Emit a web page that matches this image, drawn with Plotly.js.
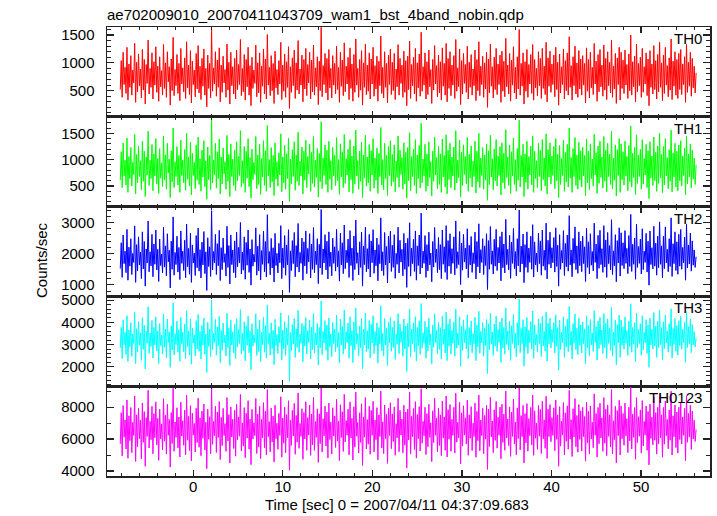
<!DOCTYPE html>
<html>
<head>
<meta charset="utf-8">
<script src="https://cdn.plot.ly/plotly-3.0.1.min.js"></script>
<style>html,body{margin:0;padding:0;background:#fff;}#chart{width:717px;height:516px;}</style>
</head>
<body>
<div id="chart"></div>
<script>
// ---- data (counts/sec) ----
const TITLE = "ae702009010_20070411043709_wam1_bst_4band_nobin.qdp";
const X_LABEL = "Time [sec] 0 = 2007/04/11 04:37:09.683";
const Y_LABEL = "Counts/sec";
const BANDS = ["TH0", "TH1", "TH2", "TH3", "TH0123"];
const T_START = -8.15;
const T_END = 56.15;
const X_TICKS = [0, 10, 20, 30, 40, 50];

const TH0 = [
520,1040,380,1190,610,920,450,1280,330,980,560,1130,420,870,640,1350,290,1010,480,1160,
590,890,370,1240,510,1060,260,970,630,1410,440,900,560,1180,350,1020,600,1290,470,940,
310,1110,570,860,420,1330,540,1000,380,1200,660,930,240,1070,500,1460,410,880,590,1150,
450,990,320,1260,620,910,480,1090,360,1380,550,960,430,1220,280,1030,610,870,390,1170,
530,1310,460,940,340,1080,580,1250,420,900,210,1140,540,990,370,1600,490,910,620,1200,
400,1050,560,1270,300,960,470,1120,640,880,380,1340,510,1010,260,1190,590,930,440,1080,
350,1230,520,970,610,1420,410,900,480,1150,330,1060,570,1280,420,950,230,1100,540,870,
630,1320,390,1000,460,1180,290,940,580,1250,440,1070,350,1510,600,920,410,1130,500,990,
270,1210,550,880,430,1040,620,1370,340,960,490,1160,380,1020,560,1290,180,930,470,1090,
590,1230,360,1000,510,1400,440,890,600,1140,300,1060,530,1260,410,970,640,1190,350,1050,
480,1320,420,910,570,1110,250,1030,500,1640,390,950,610,1170,460,1080,330,1240,550,900,
370,1130,600,990,440,1300,520,920,290,1190,580,1050,410,1360,480,940,620,1100,340,1270,
540,980,310,1150,470,1430,600,900,380,1060,510,1220,240,1000,560,1340,430,960,490,1180,
350,1070,620,1280,400,950,530,1120,310,1030,590,1480,450,920,370,1200,560,990,280,1140,
610,1250,430,1010,500,1170,340,890,570,1330,420,1080,630,960,380,1210,470,1040,230,1120,
520,1390,360,970,590,1100,440,1260,310,1000,550,1160,400,1550,490,930,600,1180,350,1020,
430,1230,570,880,270,1060,510,1310,620,950,390,1140,460,1020,330,1270,580,990,420,1350,
300,1080,540,1200,410,960,600,1130,360,1420,490,910,570,1250,250,1040,440,1170,630,970,
470,1300,350,1010,560,1150,420,890,590,1230,320,1060,500,1380,410,940,610,1120,380,1000,
530,1190,200,1070,460,1340,580,930,370,1100,520,1260,430,980,610,1140,290,1210,490,1030,
390,1440,570,960,440,1170,310,1050,600,1290,460,920,350,1110,530,1600,420,990,580,1180,
260,1020,490,1240,380,970,620,1150,450,1330,330,1060,550,900,410,1200,590,1080,360,1260,
540,940,430,1370,300,1090,580,1210,470,980,610,1140,390,1280,520,1010,240,1160,460,930,
610,1250,350,1040,500,1180,420,1470,560,950,330,1110,590,1300,440,1000,380,1220,530,1070,
420,1130,600,990,280,1270,490,1060,370,1190,550,920,430,1350,620,1030,310,1150,480,1240,
570,960,400,1320,510,1080,340,1200,590,1010,460,1410,380,940,530,1170,270,1090,610,1280,
330,1190,540,1050,450,1230,600,970,360,1160,500,1500,420,1020,570,1120,300,1340,480,990,
590,1100,380,1260,470,930,620,1180,410,1070,230,1220,560,980,440,1310,520,1040,350,1150,
480,1370,560,1000,320,1140,450,1280,600,950,390,1090,510,1430,340,1030,580,1200,420,1060,
360,1170,520,1240,430,980,610,1110,290,1330,470,1010,580,1190,400,1080,550,940,460,820
];

const TH1 = [
610,1150,470,1320,690,990,520,1410,380,1060,640,1230,500,950,720,1480,350,1100,560,1260,
680,980,430,1350,590,1160,300,1050,710,1540,510,990,640,1290,410,1110,690,1400,540,1020,
360,1210,650,940,490,1450,620,1090,440,1310,750,1010,280,1170,580,1600,470,960,680,1250,
520,1080,380,1370,700,990,560,1190,420,1500,630,1050,500,1330,330,1120,700,950,450,1280,
610,1430,530,1020,400,1180,670,1360,490,980,250,1240,620,1080,430,1770,560,990,710,1310,
460,1150,640,1390,350,1050,540,1220,730,960,440,1460,590,1100,300,1300,680,1010,510,1180,
410,1340,600,1060,700,1550,480,980,550,1250,380,1160,650,1400,490,1040,270,1200,620,950,
720,1440,450,1090,530,1290,340,1020,670,1360,510,1170,400,1650,690,1000,470,1230,580,1080,
320,1320,630,960,500,1130,710,1490,390,1050,560,1270,440,1110,640,1410,210,1010,540,1190,
680,1340,420,1090,590,1520,510,970,690,1240,350,1160,610,1370,470,1060,730,1300,400,1140,
550,1440,480,990,660,1210,290,1120,580,1720,450,1030,700,1280,530,1180,380,1350,630,980,
430,1230,690,1080,510,1420,600,1000,340,1300,670,1150,470,1480,550,1020,710,1200,390,1380,
620,1070,360,1260,540,1560,690,980,440,1160,590,1330,280,1090,650,1460,500,1050,560,1290,
400,1170,710,1400,460,1030,610,1220,360,1120,680,1610,520,1000,430,1310,640,1080,320,1250,
700,1360,500,1100,580,1280,390,970,660,1450,480,1180,720,1040,440,1320,540,1140,270,1230,
600,1510,410,1060,680,1200,510,1380,360,1090,640,1270,460,1690,560,1010,690,1290,400,1110,
500,1340,660,960,310,1160,590,1430,710,1040,450,1250,530,1110,380,1390,670,1080,480,1470,
350,1180,620,1310,470,1050,690,1240,420,1550,560,990,660,1370,290,1140,510,1280,720,1060,
540,1420,400,1100,650,1260,480,970,680,1350,370,1160,580,1500,470,1030,700,1230,440,1090,
610,1300,230,1170,530,1460,670,1020,430,1200,600,1380,500,1070,700,1250,330,1320,560,1120,
450,1570,660,1050,510,1280,360,1150,690,1410,530,1000,400,1210,610,1750,480,1080,670,1290,
300,1110,570,1350,440,1060,710,1260,520,1450,380,1160,640,980,470,1310,680,1180,410,1380,
620,1030,500,1490,350,1190,670,1320,540,1070,700,1250,450,1400,600,1100,280,1270,530,1020,
700,1370,400,1140,580,1290,480,1600,650,1040,380,1210,680,1420,510,1090,440,1330,610,1170,
480,1240,690,1080,320,1390,560,1160,430,1300,640,1010,500,1480,710,1130,360,1260,550,1350,
660,1050,460,1440,590,1180,390,1310,680,1100,530,1540,440,1030,610,1280,310,1190,700,1400,
380,1300,620,1150,520,1350,690,1060,410,1270,580,1640,480,1120,660,1230,340,1470,550,1090,
680,1200,440,1380,540,1020,710,1290,470,1170,260,1340,650,1070,510,1430,600,1140,400,1260,
550,1500,650,1100,370,1250,520,1400,690,1040,450,1190,590,1560,390,1130,670,1310,480,1160,
410,1280,600,1360,500,1070,700,1220,330,1450,540,1110,670,1300,460,1180,630,1030,530,900
];

const TH2 = [
1520,2350,1240,2600,1680,2080,1390,2780,1150,2210,1600,2480,1330,2010,1720,2890,1080,2290,1450,2540,
1640,2050,1200,2700,1510,2390,960,2150,1700,3050,1420,2060,1610,2620,1260,2310,1660,2760,1480,2140,
1110,2470,1620,1990,1380,2850,1570,2250,1290,2640,1740,2110,900,2400,1500,3180,1310,2040,1650,2560,
1410,2200,1170,2730,1690,2080,1460,2430,1230,2950,1580,2170,1340,2660,1080,2280,1700,2020,1300,2580,
1550,2820,1440,2130,1220,2370,1640,2710,1360,2060,820,2510,1590,2220,1270,3380,1480,2070,1710,2620,
1330,2320,1610,2750,1140,2190,1490,2500,1720,2000,1280,2880,1560,2260,1030,2600,1650,2120,1390,2410,
1230,2690,1580,2200,1700,3000,1350,2050,1470,2540,1180,2360,1630,2760,1400,2150,990,2450,1600,1980,
1730,2830,1310,2240,1450,2610,1160,2100,1660,2720,1420,2390,1250,3250,1690,2070,1320,2490,1540,2190,
1090,2650,1620,2010,1380,2330,1710,2900,1200,2180,1550,2580,1310,2280,1640,2770,760,2090,1460,2420,
1680,2680,1260,2260,1570,2970,1410,2040,1690,2500,1150,2380,1610,2730,1360,2170,1740,2640,1220,2310,
1500,2840,1390,2080,1650,2480,1040,2300,1540,3420,1330,2150,1700,2610,1480,2400,1190,2700,1590,2050,
1290,2500,1690,2220,1440,2780,1580,2090,1120,2660,1640,2350,1360,2920,1520,2110,1710,2470,1240,2740,
1620,2180,1140,2570,1490,3080,1690,2030,1320,2380,1560,2690,960,2240,1650,2850,1420,2160,1510,2620,
1250,2410,1710,2770,1370,2120,1610,2500,1130,2290,1680,3150,1450,2060,1300,2680,1640,2230,1060,2560,
1700,2720,1430,2270,1560,2610,1210,2010,1660,2850,1380,2430,1730,2140,1290,2650,1500,2340,920,2490,
1590,2990,1280,2180,1680,2460,1430,2730,1150,2250,1620,2600,1350,3300,1540,2080,1690,2580,1240,2290,
1450,2690,1640,2020,1100,2390,1570,2840,1720,2150,1390,2520,1490,2290,1200,2760,1660,2220,1400,2900,
1170,2420,1600,2640,1360,2160,1690,2540,1320,3050,1530,2060,1650,2710,1010,2340,1470,2620,1730,2180,
1510,2800,1230,2270,1640,2550,1400,2030,1680,2690,1190,2390,1580,2960,1380,2130,1720,2480,1330,2250,
1620,2640,850,2420,1500,2870,1660,2090,1350,2460,1600,2780,1460,2200,1700,2550,1130,2700,1550,2310,
1380,3100,1650,2140,1480,2590,1210,2370,1690,2810,1520,2070,1290,2480,1610,3400,1410,2240,1670,2630,
1070,2290,1560,2700,1400,2180,1720,2560,1500,2930,1250,2380,1640,2020,1420,2660,1680,2410,1310,2760,
1600,2110,1470,2980,1190,2430,1660,2690,1540,2190,1710,2520,1410,2830,1590,2270,960,2610,1500,2100,
1700,2740,1300,2330,1580,2600,1440,3220,1640,2120,1260,2490,1690,2860,1490,2250,1370,2700,1610,2400,
1420,2560,1680,2220,1110,2810,1560,2380,1350,2640,1630,2070,1450,2980,1720,2310,1200,2590,1530,2750,
1650,2160,1400,2900,1570,2440,1240,2680,1680,2260,1480,3090,1330,2090,1610,2610,1100,2420,1700,2830,
1280,2670,1620,2350,1520,2740,1690,2170,1360,2580,1590,3260,1430,2300,1660,2500,1180,2950,1560,2230,
1690,2470,1350,2800,1490,2080,1720,2650,1410,2400,990,2730,1650,2190,1510,2880,1600,2340,1310,2560,
1550,3020,1660,2250,1230,2560,1520,2860,1700,2140,1420,2480,1590,3150,1270,2320,1680,2700,1460,2380,
1340,2620,1600,2780,1500,2200,1710,2530,1150,2940,1540,2280,1670,2660,1440,2410,1630,2120,1560,1900
];

const TH3 = [
2850,3780,2380,4120,3000,3550,2560,4300,2240,3660,2900,3990,2470,3480,3050,4450,2130,3720,2680,4040,
2970,3530,2290,4210,2790,3870,1900,3600,3060,4700,2610,3520,2920,4090,2400,3780,2990,4250,2720,3610,
2150,3950,2950,3420,2580,4380,2880,3700,2420,4150,3100,3570,1980,3850,2760,4880,2530,3490,3000,4060,
2660,3680,2250,4230,3040,3560,2690,3930,2380,4520,2900,3620,2540,4150,2120,3740,3070,3450,2490,4080,
2800,4360,2700,3600,2350,3860,2980,4200,2570,3480,1750,4000,2920,3700,2460,5000,2760,3500,3090,4130,
2530,3800,2940,4270,2200,3650,2740,3970,3080,3430,2490,4410,2860,3750,2060,4100,2990,3580,2620,3910,
2380,4160,2890,3680,3050,4580,2580,3510,2710,4030,2270,3830,2970,4290,2630,3620,1870,3940,2930,3440,
3090,4390,2510,3700,2680,4090,2240,3560,3000,4230,2660,3860,2400,4790,3040,3520,2530,3980,2820,3650,
2100,4140,2960,3460,2600,3800,3070,4430,2300,3660,2810,4040,2520,3750,2980,4310,1350,3550,2730,3900,
3030,4180,2420,3710,2870,4540,2650,3480,3060,3960,2230,3850,2940,4220,2580,3640,3100,4100,2360,3790,
2780,4400,2620,3530,2990,3950,2080,3770,2850,4960,2550,3600,3070,4080,2740,3890,2290,4200,2910,3480,
2460,4000,3050,3690,2690,4320,2880,3540,2180,4140,2990,3820,2570,4560,2810,3580,3090,3970,2390,4250,
2950,3620,2190,4030,2760,4640,3040,3490,2500,3840,2860,4180,1920,3700,2990,4420,2680,3620,2790,4090,
2400,3910,3080,4300,2600,3590,2950,3980,2170,3760,3030,4750,2720,3510,2490,4170,2980,3730,2050,4010,
3070,4220,2700,3780,2870,4070,2330,3480,3020,4400,2590,3920,3100,3610,2480,4150,2810,3840,1800,3950,
2900,4600,2460,3700,3040,3980,2680,4260,2260,3770,2950,4080,2560,4850,2840,3530,3060,4050,2390,3790,
2720,4200,2990,3470,2140,3880,2880,4380,3100,3650,2590,4000,2790,3760,2340,4290,3010,3700,2620,4470,
2280,3920,2930,4150,2570,3640,3060,4010,2480,4600,2840,3520,2980,4250,2020,3820,2750,4110,3090,3670,
2810,4340,2370,3760,2990,4070,2640,3500,3040,4230,2280,3880,2900,4500,2610,3600,3080,3990,2480,3740,
2950,4130,1700,3940,2780,4410,3020,3570,2520,3930,2930,4290,2700,3680,3100,4020,2200,4200,2850,3780,
2570,4650,3010,3610,2760,4060,2290,3850,3060,4360,2830,3520,2450,3990,2970,5050,2640,3730,3040,4120,
2030,3800,2880,4220,2600,3650,3090,4030,2800,4510,2390,3890,2990,3460,2670,4160,3050,3960,2460,4280,
2940,3590,2720,4470,2260,3960,3030,4190,2850,3680,3100,3990,2620,4340,2920,3770,1850,4100,2780,3550,
3080,4250,2430,3820,2890,4140,2690,4720,2970,3600,2350,3950,3060,4380,2770,3740,2550,4190,2960,3890,
2620,4020,3040,3710,2150,4290,2850,3870,2500,4130,2990,3530,2700,4530,3100,3800,2310,4070,2820,4230,
3000,3660,2600,4400,2860,3970,2380,4160,3050,3750,2740,4680,2480,3560,2950,4100,2090,3900,3080,4330,
2420,4110,2970,3800,2790,4240,3060,3640,2510,4060,2910,4840,2660,3780,3020,3990,2240,4420,2860,3700,
3050,3940,2520,4300,2760,3550,3090,4120,2610,3880,1980,4190,2990,3690,2800,4440,2930,3830,2430,4050,
2870,4560,3000,3760,2310,4030,2820,4330,3070,3610,2660,3940,2930,4610,2400,3730,3020,4170,2700,3860,
2540,4080,2950,4270,2800,3690,3090,4020,2200,4480,2870,3810,3030,4160,2640,3910,2990,3590,2900,3300
];

const TH0123 = [
5700,7650,4950,8100,6120,7200,5380,8450,4800,7460,5900,7980,5150,7050,6230,8700,4600,7520,5520,7940,
6030,7180,4760,8260,5800,7720,4300,7340,6170,9050,5440,7110,5960,8050,5080,7590,6080,8330,5640,7300,
4670,7880,6010,6950,5330,8520,5870,7490,5060,8180,6240,7230,4250,7660,5720,9180,5240,7070,6110,7960,
5450,7380,4880,8310,6190,7150,5610,7810,5020,8750,5930,7420,5280,8090,4640,7620,6250,6980,5190,7930,
5780,8560,5490,7330,4960,7750,6050,8200,5320,7050,4150,7870,5990,7400,5070,9250,5670,7100,6200,8050,
5160,7700,6100,8350,4720,7360,5590,7920,6220,6970,5230,8600,5880,7530,4500,8010,6130,7240,5410,7800,
4930,8180,5950,7390,6180,8800,5250,7010,5560,7970,4840,7620,6060,8400,5370,7250,4400,7860,6000,7020,
6210,8540,5100,7560,5500,8050,4780,7230,6070,8280,5460,7740,5010,9100,6150,7090,5200,7940,5820,7440,
4560,8120,6020,6990,5360,7610,6230,8650,4870,7320,5740,7990,5150,7530,6080,8400,4050,7180,5600,7800,
6190,8230,5050,7480,5810,8890,5420,6980,6170,7900,4730,7660,6010,8330,5300,7340,6250,8120,4980,7570,
5630,8620,5290,7100,6110,7890,4540,7580,5720,9200,5200,7270,6200,8060,5570,7690,4820,8250,5970,7060,
5060,7960,6190,7450,5480,8490,5890,7130,4650,8150,6100,7710,5230,8800,5820,7150,6240,7870,5010,8330,
6070,7300,4690,8020,5500,8950,6180,7040,5130,7650,5790,8210,4350,7390,6120,8600,5380,7220,5680,8060,
5050,7800,6240,8370,5200,7190,5960,7970,4700,7510,6160,9000,5440,7080,5090,8130,6030,7560,4480,7930,
6220,8280,5400,7580,5850,8010,4990,6960,6080,8550,5210,7800,6250,7260,5140,8120,5620,7690,4200,7880,
5950,8950,5060,7420,6150,7910,5350,8340,4810,7540,6020,8030,5250,9150,5740,7110,6200,7990,5030,7590,
5520,8180,6100,7020,4590,7770,5780,8560,6240,7300,5200,7930,5600,7520,4960,8380,6060,7380,5300,8700,
4880,7840,5990,8160,5230,7240,6230,7990,5120,8880,5810,7050,6080,8310,4440,7640,5560,8090,6250,7330,
5690,8440,4990,7520,6050,8030,5280,7000,6160,8250,4860,7740,5900,8750,5270,7190,6220,7930,5080,7480,
6000,8120,4100,7880,5540,8620,6140,7130,5150,7830,5920,8360,5430,7370,6240,8000,4760,8180,5790,7560,
5300,9000,6070,7260,5590,8010,4920,7690,6170,8500,5700,7070,5010,7950,6030,9200,5320,7470,6150,8110,
4500,7590,5760,8220,5240,7280,6210,7980,5640,8760,4980,7770,6050,6990,5360,8100,6180,7860,5100,8370,
6020,7200,5420,8680,4790,7880,6160,8160,5830,7340,6230,7960,5270,8450,5980,7520,4300,8030,5560,7130,
6250,8290,5020,7640,5860,8080,5370,9050,6000,7210,4910,7900,6130,8530,5520,7480,5180,8160,5980,7770,
5250,7990,6150,7410,4620,8310,5770,7730,5080,8080,6010,7050,5460,8830,6240,7600,4870,7980,5710,8240,
6070,7330,5230,8600,5740,7870,4960,8140,6170,7520,5500,9100,5070,7150,5960,8050,4510,7790,6220,8430,
5000,8070,6020,7600,5610,8250,6200,7280,5150,7990,5890,9250,5380,7560,6110,7970,4740,8590,5790,7400,
6180,7830,5120,8410,5570,7110,6250,8070,5300,7730,4390,8190,6030,7370,5640,8640,5930,7660,5060,7980,
5710,8850,6080,7520,4870,7980,5680,8380,6210,7230,5390,7820,5930,9000,5000,7460,6140,8130,5470,7700,
5120,8000,5970,8300,5690,7380,6240,7920,4650,8710,5800,7600,6120,8110,5350,7750,6000,7180,5850,6600
];

const SERIES = [TH0, TH1, TH2, TH3, TH0123];
const Y_TICKS = [[500,1000,1500],[500,1000,1500],[1000,2000,3000],[2000,3000,4000,5000],[4000,6000,8000]];

// ---- styling ----
const COLORS = ["#ff0000", "#00ff00", "#0000ff", "#00ffff", "#ff00ff"];
const Y_RANGES = [[30,1645],[110,1813],[630,3510],[1130,5170],[3690,9310]];
const Y_MINOR = [100,100,200,200,1000];
const FONT = {family: "Liberation Sans, Arial, sans-serif", size: 15, color: "#000"};
const AX = "#222";

function timeGrid(n) {
  const dt = (T_END - T_START) / (n - 1);
  const t = new Array(n);
  for (let i = 0; i < n; i++) t[i] = T_START + i * dt;
  return t;
}

const data = SERIES.map((s, k) => ({
  type: "scatter", mode: "lines",
  x: timeGrid(s.length), y: s,
  xaxis: "x" + (k + 1), yaxis: "y" + (k + 1),
  line: {color: COLORS[k], width: 1},
  hoverinfo: "skip", showlegend: false
}));

const layout = {
  width: 717, height: 516,
  margin: {l: 107, r: 7, t: 27, b: 40, pad: 0},
  paper_bgcolor: "#fff", plot_bgcolor: "#fff",
  font: FONT,
  title: {text: TITLE, font: FONT, xref: "container", x: 107/717, xanchor: "left",
          yref: "container", y: 1 - 14.5/516, yanchor: "middle"},
  annotations: [],
  showlegend: false
};

const n = SERIES.length;
for (let k = 0; k < n; k++) {
  const top = 1 - k / n, bot = 1 - (k + 1) / n;
  const last = (k === n - 1);
  const xa = {
    anchor: "y" + (k + 1),
    range: [-9.63, 57.7],
    tickvals: X_TICKS,
    showticklabels: last,
    ticks: "inside", ticklen: 6, tickwidth: 1.2, tickcolor: AX,
    minor: {dtick: 2, tick0: 0, ticks: "inside", ticklen: 3, tickwidth: 1, tickcolor: AX, showgrid: false},
    showline: true, linecolor: AX, linewidth: 1.5, mirror: "ticks",
    showgrid: false, zeroline: false,
    tickfont: FONT, ticklabelstandoff: -4
  };
  if (!last) xa.matches = "x" + n;
  layout["xaxis" + (k + 1)] = xa;
  layout["yaxis" + (k + 1)] = {
    anchor: "x" + (k + 1),
    domain: [bot, top],
    range: Y_RANGES[k],
    tickvals: Y_TICKS[k],
    ticks: "inside", ticklen: 7, tickwidth: 1.2, tickcolor: AX,
    minor: {dtick: Y_MINOR[k], tick0: 0, ticks: "inside", ticklen: 4, tickwidth: 1, tickcolor: AX, showgrid: false},
    showline: true, linecolor: AX, linewidth: 1.5, mirror: "ticks",
    showgrid: false, zeroline: false,
    tickfont: FONT, ticklabelstandoff: 8
  };
  layout.annotations.push({
    text: BANDS[k], xref: "paper", yref: "paper", x: 1, y: top,
    xanchor: "right", yanchor: "top", xshift: -6, yshift: -1,
    showarrow: false, font: FONT
  });
}

layout.annotations.push({
  text: Y_LABEL, xref: "paper", yref: "paper", x: 0, y: 1 - (260 - 27) / 449,
  xshift: -66, xanchor: "center", yanchor: "middle", textangle: -90,
  showarrow: false, font: FONT
});
layout.annotations.push({
  text: X_LABEL, xref: "paper", yref: "paper", x: (397 - 107) / 603, y: 0,
  yshift: -28, xanchor: "center", yanchor: "middle",
  showarrow: false, font: FONT
});

Plotly.newPlot("chart", data, layout, {displayModeBar: false, staticPlot: true});
</script>
</body>
</html>
